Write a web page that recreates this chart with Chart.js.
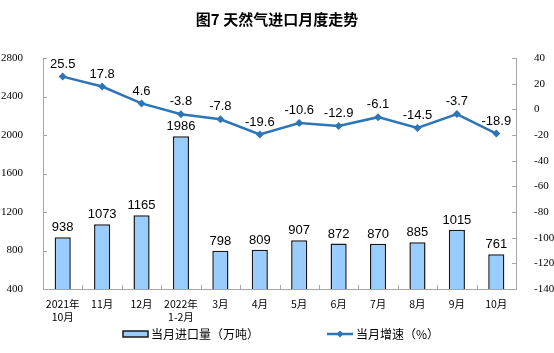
<!DOCTYPE html>
<html><head><meta charset="utf-8">
<script src="https://cdn.jsdelivr.net/npm/chart.js@4/dist/chart.umd.min.js"></script>
<style>html,body{margin:0;padding:0;background:#fff}#wrap{width:554px;height:353px;position:relative}</style>
</head><body><div id="wrap"><canvas id="c" width="554" height="353"></canvas></div>
<script>
const categories = [["2021年","10月"],"11月","12月",["2022年","1-2月"],"3月","4月","5月","6月","7月","8月","9月","10月"];
const importVolume = [938,1073,1165,1986,798,809,907,872,870,885,1015,761];
const growthRate = [25.5,17.8,4.6,-3.8,-7.8,-19.6,-10.6,-12.9,-6.1,-14.5,-3.7,-18.9];
const leftTicks = [400,800,1200,1600,2000,2400,2800];
const rightTicks = [-140,-120,-100,-80,-60,-40,-20,0,20,40];
const titleText = "图7 天然气进口月度走势";
const legendBar = "当月进口量（万吨）";
const legendLine = "当月增速（%）";

const CJK = '"Noto Sans CJK SC", sans-serif';
const LINE_COLOR = '#2E75B6';
const BAR_COLOR = '#99CCFF';

const extras = {
  id: 'extras',
  afterDraw(chart) {
    const ctx = chart.ctx;
    const x = chart.scales.x, yl = chart.scales.y, yr = chart.scales.y1;
    ctx.save();
    ctx.strokeStyle = '#A6A6A6'; ctx.lineWidth = 1;
    ctx.beginPath();
    yl.ticks.forEach((t,i)=>{const p=Math.round(yl.getPixelForTick(i))+0.5; ctx.moveTo(x.left,p); ctx.lineTo(x.left+4,p);});
    yr.ticks.forEach((t,i)=>{const p=Math.round(yr.getPixelForTick(i))+0.5; ctx.moveTo(x.right,p); ctx.lineTo(x.right-4,p);});
    const n = categories.length, w = (x.right-x.left)/n;
    for (let i=0;i<=n;i++){const p=Math.round(x.left+i*w)+0.5; ctx.moveTo(p,yl.bottom); ctx.lineTo(p,yl.bottom-4);}
    ctx.stroke();
    ctx.fillStyle = '#000';
    ctx.font = '13px "Liberation Sans", Arial, sans-serif';
    ctx.textAlign = 'center'; ctx.textBaseline = 'bottom';
    chart.getDatasetMeta(0).data.forEach((el,i)=>{ ctx.fillText(String(importVolume[i]), el.x, el.y-3); });
    chart.getDatasetMeta(1).data.forEach((el,i)=>{ ctx.fillText(String(growthRate[i]), el.x, el.y-6); });
    ctx.font = '600 15px ' + CJK; ctx.textBaseline = 'middle';
    ctx.fillText(titleText, 277, 19);
    const ly = 334;
    ctx.fillStyle = BAR_COLOR; ctx.strokeStyle = '#1a1a1a'; ctx.lineWidth = 1.5;
    ctx.fillRect(123, ly-3, 25, 6); ctx.strokeRect(123, ly-3, 25, 6);
    ctx.fillStyle = '#000'; ctx.font = '12px ' + CJK; ctx.textAlign = 'left';
    ctx.fillText(legendBar, 151, ly);
    ctx.strokeStyle = LINE_COLOR; ctx.lineWidth = 2.5;
    ctx.beginPath(); ctx.moveTo(327, ly); ctx.lineTo(353, ly); ctx.stroke();
    ctx.fillStyle = LINE_COLOR; ctx.beginPath();
    ctx.moveTo(340, ly-3.5); ctx.lineTo(343.5, ly); ctx.lineTo(340, ly+3.5); ctx.lineTo(336.5, ly); ctx.closePath(); ctx.fill();
    ctx.fillStyle = '#000';
    ctx.fillText(legendLine, 356, ly);
    ctx.restore();
  }
};

new Chart(document.getElementById('c'), {
  data: {
    labels: categories,
    datasets: [
      { type: 'bar', data: importVolume, yAxisID: 'y', backgroundColor: BAR_COLOR, borderColor: '#1a1a1a', borderWidth: 1.5, barPercentage: 0.41, categoryPercentage: 1, order: 2 },
      { type: 'line', data: growthRate, yAxisID: 'y1', borderColor: LINE_COLOR, backgroundColor: LINE_COLOR, borderWidth: 2.5, pointStyle: 'rectRot', pointRadius: 4, pointBorderWidth: 0, tension: 0, order: 1 }
    ]
  },
  options: {
    responsive: false, animation: false, devicePixelRatio: 1,
    layout: { padding: { top: 58, left: 0, right: 0, bottom: 0 } },
    plugins: { legend: { display: false }, tooltip: { enabled: false }, title: { display: false } },
    scales: {
      x: {
        grid: { display: false, offset: true },
        border: { display: true, color: '#A6A6A6' },
        ticks: { color: '#000', font: { family: CJK, size: 10.5 }, padding: 1, maxRotation: 0, autoSkip: false },
        afterFit(s){ s.height = 64; }
      },
      y: {
        position: 'left', min: 400, max: 2800,
        afterBuildTicks(s){ s.ticks = leftTicks.map(v=>({value:v})); },
        grid: { display: false },
        border: { display: true, color: '#A6A6A6' },
        ticks: { color: '#000', font: { family: '"Liberation Serif", serif', size: 11 }, padding: 12, callback: v => String(v) },
        afterFit(s){ s.width = 43; }
      },
      y1: {
        position: 'right', min: -140, max: 40,
        afterBuildTicks(s){ s.ticks = rightTicks.map(v=>({value:v})); },
        grid: { display: false },
        border: { display: true, color: '#A6A6A6' },
        ticks: { color: '#000', font: { family: '"Liberation Serif", serif', size: 11 }, padding: 10, callback: v => String(v) },
        afterFit(s){ s.width = 38; }
      }
    }
  },
  plugins: [extras]
});
</script></body></html>
